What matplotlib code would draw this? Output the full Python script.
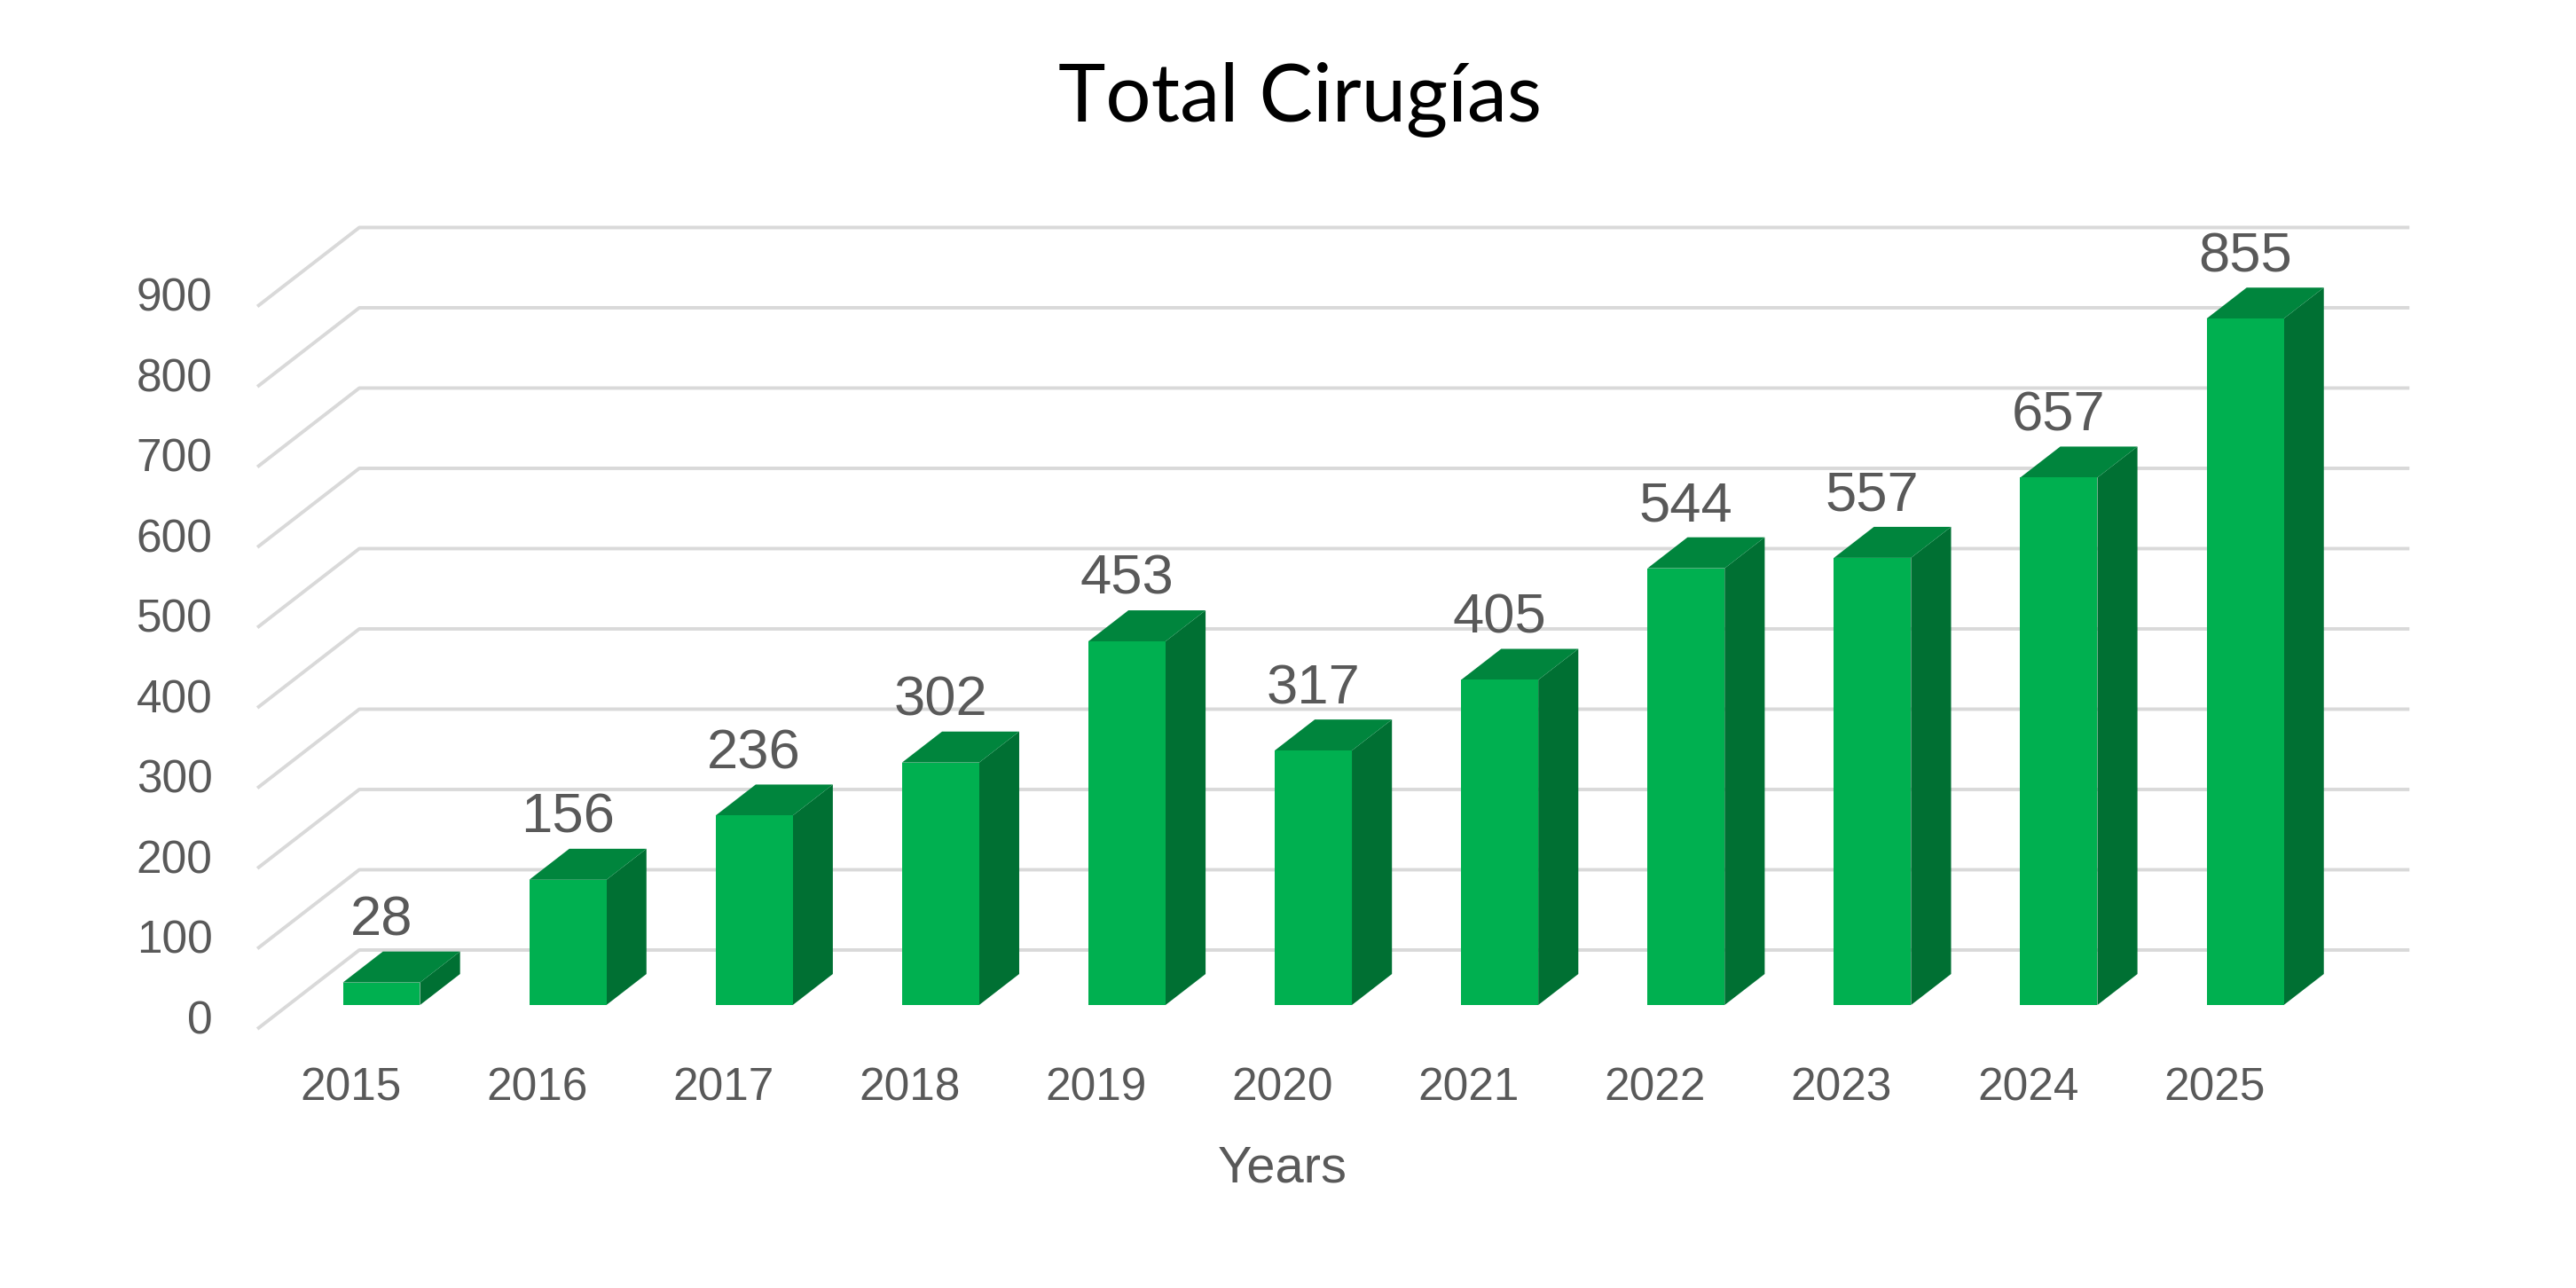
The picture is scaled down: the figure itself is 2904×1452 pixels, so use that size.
import matplotlib.pyplot as plt
from matplotlib.patches import Polygon

# data
years = ["2015", "2016", "2017", "2018", "2019", "2020",
         "2021", "2022", "2023", "2024", "2025"]
surgeries = [28, 156, 236, 302, 453, 317, 405, 544, 557, 657, 855]
y_ticks = [0, 100, 200, 300, 400, 500, 600, 700, 800, 900]

title = "Total Cirugías"
x_title = "Years"

# colours
front_col = "#00B050"
top_col = "#00853D"
side_col = "#007033"
grid_col = "#D9D9D9"
text_col = "#595959"

# oblique "3D" offsets, in data units (x: category, y: value)
floor_dx, floor_dy = 0.547, 98.3      # whole floor depth
front_gap = 0.303                     # bar front plane, share of depth from front edge
bar_depth = 0.393                     # bar thickness, share of depth
bar_w = 0.414

fig = plt.figure(figsize=(14.52, 7.26), dpi=200)
ax = fig.add_axes([0, 0, 1, 1])
ax.set_xlim(-2.0466, 11.775)
ax.set_ylim(-352.5, 1251.9)
ax.axis("off")

n = len(years)
xs = list(range(n))

# gridlines: slanted stub at left + flat line on back wall
back = 1 - front_gap
for g in y_ticks:
    xb0 = -0.5 + back * floor_dx
    xb1 = n - 0.5 + back * floor_dx
    yb = g + back * floor_dy
    xf = xb0 - floor_dx
    yf = g - front_gap * floor_dy
    ax.plot([xf, xb0, xb1], [yf, yb, yb], color=grid_col, lw=1.4,
            solid_capstyle="butt", zorder=1)
    ax.text(xf - 0.24, yf + 9, str(g), ha="right", va="center",
            fontsize=18.5, color=text_col, family="Liberation Sans")

# bars
bdx = bar_depth * floor_dx
bdy = bar_depth * floor_dy
ax.bar(xs, surgeries, width=bar_w, color=front_col, zorder=3, linewidth=0)
for x, v in zip(xs, surgeries):
    x0, x1 = x - bar_w / 2, x + bar_w / 2
    side = Polygon([(x1, 0), (x1 + bdx, bdy), (x1 + bdx, v + bdy), (x1, v)],
                   closed=True, facecolor=side_col, edgecolor="none", zorder=2)
    top = Polygon([(x0, v), (x1, v), (x1 + bdx, v + bdy), (x0 + bdx, v + bdy)],
                  closed=True, facecolor=top_col, edgecolor="none", zorder=2)
    ax.add_patch(side)
    ax.add_patch(top)
    ax.text(x, v + bdy + 20, str(v), ha="center", va="baseline",
            fontsize=22.8, color=text_col, family="Liberation Sans")

# category labels sit at the front edge of the floor
for x, lab in zip(xs, years):
    ax.text(x - front_gap * floor_dx, -104, lab, ha="center", va="center",
            fontsize=18.5, color=text_col, family="Liberation Sans")

ax.text((n - 1) / 2 - front_gap * floor_dx, -204, x_title, ha="center",
        va="center", fontsize=20.8, color=text_col, family="Liberation Sans")

fig.text(0.5048, 0.9057, title, ha="center", va="baseline",
         fontsize=32.6, color="black", family="Lato")

fig.savefig("out.png", dpi=200, facecolor="white")
